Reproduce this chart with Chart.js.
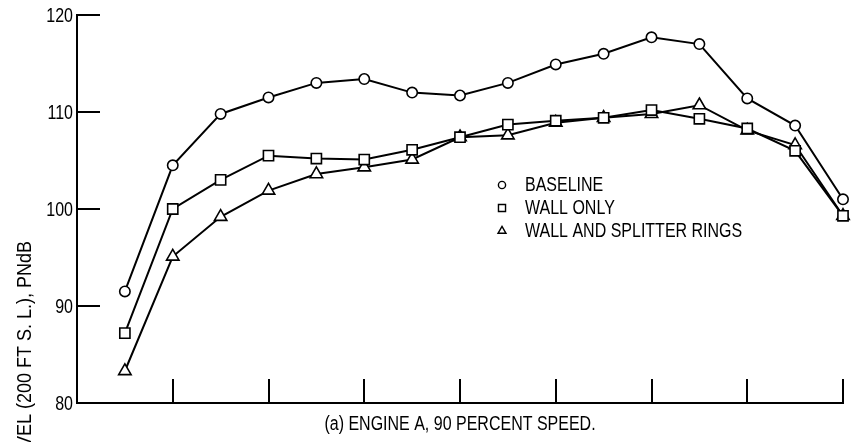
<!DOCTYPE html>
<html>
<head>
<meta charset="utf-8">
<script src="https://cdn.jsdelivr.net/npm/chart.js@4/dist/chart.umd.min.js"></script>
<style>
  html, body { margin: 0; padding: 0; background: #fff; }
  #wrap { width: 859px; height: 442px; }
</style>
</head>
<body>
<div id="wrap"><canvas id="c" width="859" height="442"></canvas></div>
<script>
// Measurement stations along the horizontal axis (unlabelled, tick every unit)
const positions = [0.5, 1, 1.5, 2, 2.5, 3, 3.5, 4, 4.5, 5, 5.5, 6, 6.5, 7, 7.5, 8];

// Perceived noise level, PNdB
const baseline     = [91.5, 104.5, 109.8, 111.5, 113.0, 113.4, 112.0, 111.7, 113.0, 114.9, 116.0, 117.7, 117.0, 111.4, 108.6, 101.0];
const wallOnly     = [87.2, 100.0, 103.0, 105.5, 105.2, 105.1, 106.1, 107.4, 108.7, 109.1, 109.4, 110.2, 109.3, 108.3, 106.0, 99.3];
const wallSplitter = [83.3, 95.1, 99.2, 101.9, 103.6, 104.3, 105.1, 107.4, 107.6, 108.9, 109.4, 109.8, 110.7, 108.1, 106.6, 99.3];

const seriesNames = ['BASELINE', 'WALL ONLY', 'WALL AND SPLITTER RINGS'];
const yTicks = [80, 90, 100, 110, 120];
const xTicks = [1, 2, 3, 4, 5, 6, 7, 8];
const xTitle = '(a) ENGINE A, 90 PERCENT SPEED.';
const yTitle = 'PERCEIVED NOISE LEVEL (200 FT S. L.), PNdB';

const FONT = "20px 'Liberation Sans', Arial, sans-serif";
const SQUEEZE = 0.8;        // horizontal compression for a condensed lettering look
const TITLE_SQUEEZE = 0.9;  // the vertical title is set a little wider
const INK = '#000';

function toPoints(values) {
  return values.map((v, i) => ({ x: positions[i], y: v }));
}

function series(label, values, style, radius) {
  return {
    label,
    data: toPoints(values),
    borderColor: INK,
    borderWidth: 2,
    pointStyle: style,
    pointRadius: radius,
    pointHoverRadius: radius,
    pointBackgroundColor: '#fff',
    pointBorderColor: INK,
    pointBorderWidth: 1.6,
    tension: 0,
    clip: false
  };
}

const datasets = [
  series(seriesNames[0], baseline, 'circle', 5.2),
  series(seriesNames[1], wallOnly, 'rect', 7.2),
  series(seriesNames[2], wallSplitter, 'triangle', 7.2)
];

// Draw condensed text at (x, y), optionally rotated
function squeezedText(ctx, text, x, y, align, angle, squeeze) {
  ctx.save();
  ctx.translate(x, y);
  if (angle) ctx.rotate(angle);
  ctx.scale(squeeze || SQUEEZE, 1);
  ctx.textAlign = align;
  ctx.textBaseline = 'middle';
  ctx.fillText(text, 0, 0);
  ctx.restore();
}

// Inward tick marks, tick labels, titles and the key
const decorations = {
  id: 'decorations',
  afterDraw(chart) {
    const { ctx, chartArea: a, scales: { x, y } } = chart;
    ctx.save();
    ctx.strokeStyle = INK;
    ctx.lineWidth = 2;
    ctx.beginPath();
    yTicks.forEach(v => {
      if (v === y.min) return;
      const py = Math.round(y.getPixelForValue(v));
      ctx.moveTo(a.left, py);
      ctx.lineTo(a.left + 23, py);
    });
    xTicks.forEach(v => {
      const px = Math.round(x.getPixelForValue(v));
      ctx.moveTo(px, a.bottom);
      ctx.lineTo(px, a.bottom - 24);
    });
    ctx.stroke();

    ctx.fillStyle = INK;
    ctx.font = FONT;

    // value labels on the vertical axis
    yTicks.forEach(v => {
      squeezedText(ctx, String(v), a.left - 4, y.getPixelForValue(v) + 1, 'right');
    });

    // horizontal caption
    squeezedText(ctx, xTitle, (a.left + a.right) / 2, 424, 'center');

    // vertical title, running upward and ending at y = 241
    squeezedText(ctx, yTitle, 25, 241, 'right', -Math.PI / 2, TITLE_SQUEEZE);

    // key
    const styles = [['circle', 3.6], ['rect', 5], ['triangle', 4.6]];
    seriesNames.forEach((name, i) => {
      const cy = 185 + i * 23;
      ctx.fillStyle = '#fff';
      ctx.strokeStyle = INK;
      ctx.lineWidth = 1.4;
      Chart.helpers.drawPoint(ctx, { pointStyle: styles[i][0], radius: styles[i][1], borderWidth: 1.4, rotation: 0 }, 502, cy);
      ctx.fillStyle = INK;
      squeezedText(ctx, name, 525, cy, 'left');
    });
    ctx.restore();
  }
};

new Chart(document.getElementById('c'), {
  type: 'line',
  data: { datasets },
  options: {
    responsive: false,
    animation: false,
    devicePixelRatio: 1,
    layout: { padding: { top: 15, right: 16, left: 0, bottom: 0 } },
    plugins: { legend: { display: false }, tooltip: { enabled: false } },
    scales: {
      x: {
        type: 'linear',
        min: 0,
        max: 8,
        grid: { display: false, drawTicks: false },
        border: { display: true, color: INK, width: 2 },
        ticks: { display: false },
        afterFit(s) { s.height = 39; }
      },
      y: {
        type: 'linear',
        min: 80,
        max: 120,
        grid: { display: false, drawTicks: false },
        border: { display: true, color: INK, width: 2 },
        ticks: { display: false, stepSize: 10 },
        afterFit(s) { s.width = 77; }
      }
    }
  },
  plugins: [decorations]
});
</script>
</body>
</html>
